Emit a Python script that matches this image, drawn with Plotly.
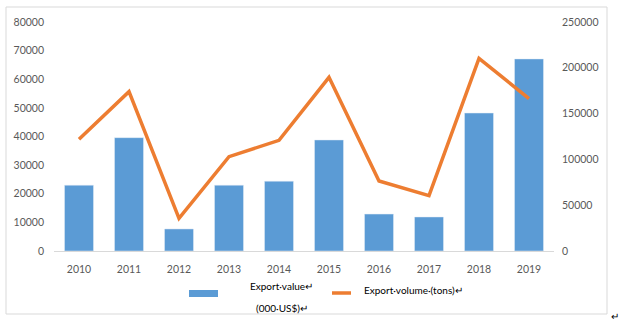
import plotly.graph_objects as go

# Annual export data
years = ["2010", "2011", "2012", "2013", "2014", "2015", "2016", "2017", "2018", "2019"]
export_value = [23000, 39600, 7700, 23000, 24400, 38800, 12900, 11900, 48200, 67100]      # 000 US$
export_volume = [122000, 174000, 35700, 103000, 120800, 189600, 76400, 60400, 210300, 166300]  # tons

value_ticks = list(range(0, 80001, 10000))
volume_ticks = list(range(0, 250001, 50000))

BLUE = "#5B9BD5"
ORANGE = "#ED7D31"
TICK_GRAY = "#595959"
FONT = "Lato, 'Open Sans', sans-serif"

fig = go.Figure()
fig.add_trace(go.Bar(x=years, y=export_value, marker_color=BLUE, width=0.58,
                     name="Export value (000 US$)", yaxis="y"))
fig.add_trace(go.Scatter(x=years, y=export_volume, mode="lines",
                         line=dict(color=ORANGE, width=3.5),
                         name="Export volume (tons)", yaxis="y2"))

L, R, T, B = 54, 67, 22, 72
W, H = 621, 323
pw = W - L - R
ph = H - T - B


def px_x(x):
    return (x - L) / pw


def px_y(y):
    return (H - B - y) / ph


shapes = [
    # outer frame
    dict(type="rect", xref="paper", yref="paper",
         x0=px_x(6), x1=px_x(607), y0=px_y(314), y1=px_y(7),
         line=dict(color="#d9d9d9", width=1), layer="below"),
    # legend swatches
    dict(type="rect", xref="paper", yref="paper",
         x0=px_x(189), x1=px_x(218), y0=px_y(297), y1=px_y(290),
         fillcolor=BLUE, line=dict(width=0)),
    dict(type="line", xref="paper", yref="paper",
         x0=px_x(332), x1=px_x(351), y0=px_y(293), y1=px_y(293),
         line=dict(color=ORANGE, width=3.5)),
]

legend_font = dict(family=FONT, size=10, color="#000000")
annotations = [
    dict(text="Export·value↵", x=px_x(248), y=px_y(286), xref="paper", yref="paper",
         xanchor="left", yanchor="middle", showarrow=False, font=legend_font),
    dict(text="(000·US$)↵", x=px_x(254), y=px_y(308), xref="paper", yref="paper",
         xanchor="left", yanchor="middle", showarrow=False, font=legend_font),
    dict(text="Export·volume·(tons)↵", x=px_x(362), y=px_y(290), xref="paper", yref="paper",
         xanchor="left", yanchor="middle", showarrow=False, font=legend_font),
    dict(text="↵", x=px_x(609), y=px_y(316), xref="paper", yref="paper",
         xanchor="left", yanchor="middle", showarrow=False, font=legend_font),
]

fig.update_layout(
    width=W, height=H,
    margin=dict(l=L, r=R, t=T, b=B, pad=0),
    paper_bgcolor="white", plot_bgcolor="white",
    showlegend=False,
    font=dict(family=FONT, size=10.5, color=TICK_GRAY),
    xaxis=dict(type="category", showgrid=False, zeroline=False,
               showline=True, linecolor="#d9d9d9", linewidth=1,
               ticks="", ticklabelstandoff=8,
               tickfont=dict(family=FONT, size=10.5, color=TICK_GRAY)),
    yaxis=dict(range=[0, 80000], tickvals=value_ticks,
               ticktext=[str(v) for v in value_ticks],
               showgrid=False, zeroline=False,
               showline=False, ticks="", ticklabelstandoff=9,
               tickfont=dict(family=FONT, size=10.5, color=TICK_GRAY)),
    yaxis2=dict(range=[0, 250000], tickvals=volume_ticks,
                ticktext=[str(v) for v in volume_ticks],
                overlaying="y", side="right",
                showgrid=False, zeroline=False, showline=False, ticks="",
                ticklabelstandoff=7,
                tickfont=dict(family=FONT, size=10.5, color=TICK_GRAY)),
    shapes=shapes,
    annotations=annotations,
)

fig.write_html("out.html")
